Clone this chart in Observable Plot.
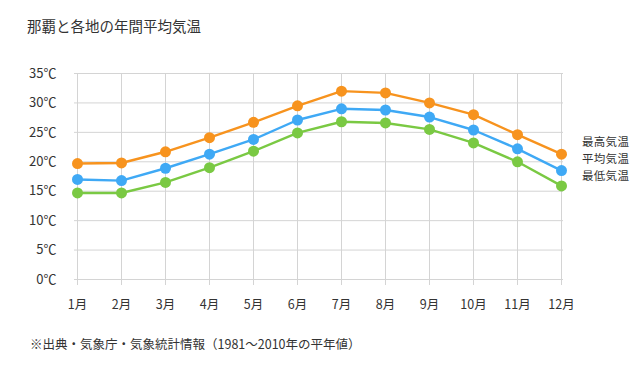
<!DOCTYPE html>
<html><head><meta charset="utf-8">
<script src="https://cdn.jsdelivr.net/npm/d3@7"></script>
<script src="https://cdn.jsdelivr.net/npm/@observablehq/plot@0.6"></script>
<style>
body{margin:0;background:#fff;font-family:"Noto Sans CJK JP","Noto Sans",sans-serif;color:#333;}
#wrap{position:relative;width:640px;height:381px;overflow:hidden;}
.t{position:absolute;white-space:nowrap;line-height:1;}
#title{left:27px;top:19px;font-size:14.5px;}
#caption{left:30px;top:338px;font-size:12.5px;}
#legend{left:582px;top:133px;font-size:11.5px;line-height:16.8px;letter-spacing:0.3px;}
</style></head>
<body>
<div id="wrap">
<div id="chart"></div>
<div id="title" class="t">那覇と各地の年間平均気温</div>
<div id="legend" class="t"></div>
<div id="caption" class="t">※出典・気象庁・気象統計情報（1981～2010年の平年値）</div>
</div>
<script>
const months = ["1月","2月","3月","4月","5月","6月","7月","8月","9月","10月","11月","12月"];
const highTemps = [19.7, 19.8, 21.7, 24.1, 26.7, 29.5, 32.0, 31.7, 30.0, 28.0, 24.6, 21.3];
const meanTemps = [17.0, 16.8, 18.9, 21.3, 23.8, 27.1, 29.0, 28.8, 27.6, 25.4, 22.2, 18.5];
const lowTemps  = [14.7, 14.7, 16.5, 19.0, 21.8, 24.9, 26.8, 26.6, 25.5, 23.2, 20.0, 15.9];
const yTicks = [0, 5, 10, 15, 20, 25, 30, 35];
const seriesNames = ["最高気温","平均気温","最低気温"];
const seriesColors = ["#f7931e","#3fa9f5","#7ac943"];

document.getElementById("legend").innerHTML = seriesNames.join("<br>");

const data = [];
[highTemps, meanTemps, lowTemps].forEach((arr, i) => {
  arr.forEach((v, j) => data.push({month: months[j], temp: v, series: seriesNames[i]}));
});

const chart = Plot.plot({
  width: 640,
  height: 381,
  marginTop: 73,
  marginBottom: 102,
  marginLeft: 74,
  marginRight: 77,
  style: {fontFamily: '"Noto Sans CJK JP", sans-serif', fontSize: "12.5px", color: "#333", background: "transparent"},
  x: {type: "point", domain: months, padding: 0},
  y: {domain: [0, 35]},
  color: {domain: seriesNames, range: seriesColors},
  marks: [
    Plot.gridY(yTicks, {stroke: "#d4d4d4", strokeOpacity: 1}),
    Plot.ruleX(months, {x: d => d, y1: 0, y2: 35, stroke: "#d4d4d4"}),
    Plot.axisY(yTicks, {tickSize: 0, tickPadding: 18, tickFormat: d => d + "℃", fontSize: "13px", fill: "#333", label: null}),
    Plot.axisX({tickSize: 6, tickPadding: 15, stroke: "#d4d4d4", fill: "#333", label: null}),
    Plot.line(data, {x: "month", y: "temp", z: "series", stroke: "series", strokeWidth: 2.4}),
    Plot.dot(data, {x: "month", y: "temp", fill: "series", r: 5.5, stroke: "none"})
  ]
});
document.getElementById("chart").appendChild(chart);
</script>
</body></html>
